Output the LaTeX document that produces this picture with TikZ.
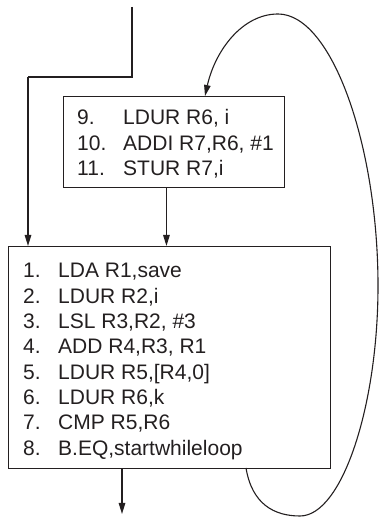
\documentclass[tikz,border=0pt]{standalone}
\usepackage{fontspec}
\setmainfont{Liberation Sans}
\usetikzlibrary{arrows.meta}
\definecolor{ink}{RGB}{35,31,32}
\begin{document}
\begin{tikzpicture}[x=1pt,y=1pt,
  box/.style={draw=ink,line width=0.9pt,rectangle,inner sep=0pt,anchor=north west},
  txt/.style={anchor=base west,inner sep=0pt,text=ink,font=\fontsize{21}{25}\selectfont},
  conn/.style={draw=ink,line width=1.3pt,-{Triangle[length=11pt,width=6.5pt]}},
  plain/.style={draw=ink,line width=1.3pt}]
\useasboundingbox (0,0) rectangle (381,526);
% boxes
\node[box,minimum width=221pt,minimum height=91pt] (up) at (63,430) {};
\node[box,minimum width=322.5pt,minimum height=222pt] (low) at (7.5,280) {};
% upper box text
\node[txt] (n9) at (77,401) {9.};
\node[txt] (t9) at (123,401) {LDUR R6, i};
\node[txt] (n10) at (77,375.5) {10.};
\node[txt] (t10) at (123,375.5) {ADDI R7,R6, \#1};
\node[txt] (n11) at (77,350) {11.};
\node[txt] (t11) at (123,350) {STUR R7,i};
% lower box text
\node[txt] (n1) at (23,248) {1.};
\node[txt] (t1) at (58,248) {LDA R1,save};
\node[txt] (n2) at (23,222.7) {2.};
\node[txt] (t2) at (58,222.7) {LDUR R2,i};
\node[txt] (n3) at (23,197.4) {3.};
\node[txt] (t3) at (58,197.4) {LSL R3,R2, \#3};
\node[txt] (n4) at (23,172.1) {4.};
\node[txt] (t4) at (58,172.1) {ADD R4,R3, R1};
\node[txt] (n5) at (23,146.8) {5.};
\node[txt] (t5) at (58,146.8) {LDUR R5,[R4,0]};
\node[txt] (n6) at (23,121.5) {6.};
\node[txt] (t6) at (58,121.5) {LDUR R6,k};
\node[txt] (n7) at (23,96.2) {7.};
\node[txt] (t7) at (58,96.2) {CMP R5,R6};
\node[txt] (n8) at (23,70.9) {8.};
\node[txt] (t8) at (58,70.9) {B.EQ,startwhileloop};
% coordinates
\coordinate (start) at (132,519);
\coordinate (bend) at (28,449);
\coordinate (exit) at (122,12);
\coordinate (loopout) at (246,58);
\coordinate (loopin) at (205,430);
% connectors
\draw[plain] (start) |- (bend);
\draw[conn] (bend) -- (bend |- low.north);
\draw[conn] ([xshift=-7.5pt]up.south) -- ([xshift=-7.5pt]up.south |- low.north);
\draw[conn] (exit |- low.south) -- (exit);
\draw[conn,line width=1.1pt] (loopout)
  .. controls (252,22) and (274,10) .. (300,10)
  .. controls (342,10) and (378,120) .. (378,240)
  .. controls (378,380) and (332,512) .. (278,512)
  .. controls (242,512) and (215,475) .. (loopin);
\end{tikzpicture}
\end{document}
